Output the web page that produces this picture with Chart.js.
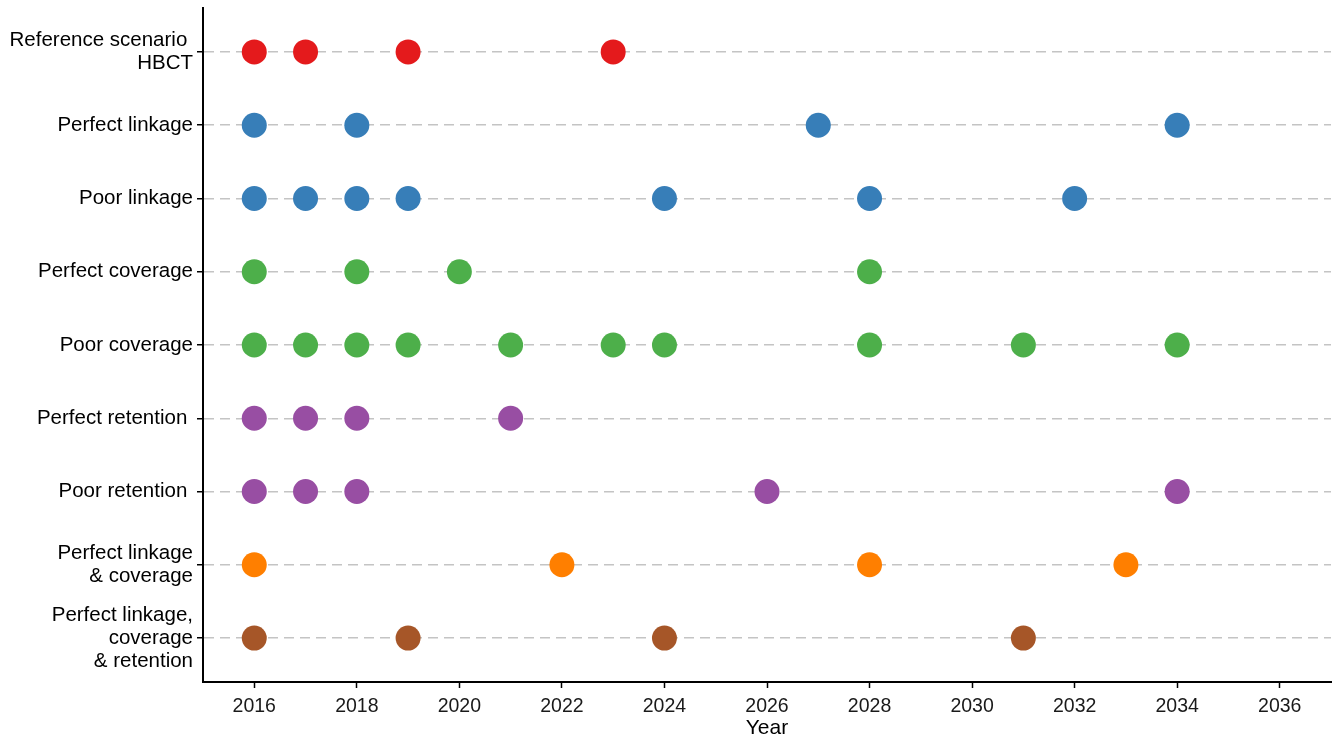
<!DOCTYPE html>
<html>
<head>
<meta charset="utf-8">
<script src="https://cdn.jsdelivr.net/npm/chart.js@4.4.1/dist/chart.umd.min.js"></script>
<style>
  html, body { margin: 0; padding: 0; background: #fff; }
  #wrap { width: 1333px; height: 737px; position: relative; }
</style>
</head>
<body>
<div id="wrap"><canvas id="timelineChart"></canvas></div>
<script>
// Scenario labels (top to bottom) and the years with a point on each row
const scenarios = [
    ['Reference scenario ', 'HBCT'],
    'Perfect linkage',
    'Poor linkage',
    'Perfect coverage',
    'Poor coverage',
    'Perfect retention ',
    'Poor retention ',
    ['Perfect linkage', '& coverage'],
    ['Perfect linkage,', 'coverage', '& retention']
];

const referenceYears = [2016, 2017, 2019, 2023];
const perfectLinkageYears = [2016, 2018, 2027, 2034];
const poorLinkageYears = [2016, 2017, 2018, 2019, 2024, 2028, 2032];
const perfectCoverageYears = [2016, 2018, 2020, 2028];
const poorCoverageYears = [2016, 2017, 2018, 2019, 2021, 2023, 2024, 2028, 2031, 2034];
const perfectRetentionYears = [2016, 2017, 2018, 2021];
const poorRetentionYears = [2016, 2017, 2018, 2026, 2034];
const linkageCoverageYears = [2016, 2022, 2028, 2033];
const allThreeYears = [2016, 2019, 2024, 2031];

const rowYears = [
    referenceYears, perfectLinkageYears, poorLinkageYears,
    perfectCoverageYears, poorCoverageYears, perfectRetentionYears,
    poorRetentionYears, linkageCoverageYears, allThreeYears
];

const rowColors = [
    '#E41A1C', '#377EB8', '#377EB8', '#4DAF4A', '#4DAF4A',
    '#984EA3', '#984EA3', '#FF7F00', '#A65628'
];

const xTicks = [2016, 2018, 2020, 2022, 2024, 2026, 2028, 2030, 2032, 2034, 2036];

const datasets = rowYears.map((years, row) => ({
    label: Array.isArray(scenarios[row]) ? scenarios[row].join(' ') : scenarios[row],
    data: years.map(y => ({ x: y, y: row })),
    backgroundColor: rowColors[row],
    borderColor: rowColors[row],
    borderWidth: 0,
    pointRadius: 12.5,
    pointHoverRadius: 12.5
}));

const ctx = document.getElementById('timelineChart').getContext('2d');
new Chart(ctx, {
    type: 'scatter',
    data: { datasets: datasets },
    options: {
        responsive: true,
        maintainAspectRatio: false,
        animation: false,
        layout: {
            autoPadding: false,
            padding: { top: 8, right: 2, left: 0, bottom: 0 }
        },
        plugins: {
            legend: { display: false },
            tooltip: { enabled: false }
        },
        scales: {
            x: {
                type: 'linear',
                min: 2015,
                max: 2037,
                afterBuildTicks: scale => {
                    scale.ticks = xTicks.map(v => ({ value: v }));
                },
                afterFit: scale => {
                    scale.height = 55;
                    scale.paddingLeft = 0;
                    scale.paddingRight = 0;
                },
                ticks: {
                    color: '#1a1a1a',
                    font: { family: 'Liberation Sans', size: 19.5 },
                    padding: 7,
                    maxRotation: 0,
                    callback: v => String(v)
                },
                grid: {
                    drawOnChartArea: false,
                    drawTicks: true,
                    tickLength: 6,
                    tickColor: '#000',
                    tickWidth: 1.5
                },
                border: { color: '#000', width: 2 },
                title: {
                    display: true,
                    text: 'Year',
                    color: '#000',
                    font: { family: 'Liberation Sans', size: 21, lineHeight: 0.8 },
                    padding: { top: 1, bottom: 0 }
                }
            },
            y: {
                type: 'linear',
                reverse: true,
                min: -0.6,
                max: 8.6,
                afterBuildTicks: scale => {
                    scale.ticks = scenarios.map((_, i) => ({ value: i }));
                },
                afterFit: scale => {
                    scale.width = 203;
                    scale.paddingTop = 0;
                    scale.paddingBottom = 0;
                },
                ticks: {
                    color: '#000',
                    font: { family: 'Liberation Sans', size: 20.5, lineHeight: 1.12 },
                    padding: 4,
                    callback: v => scenarios[v]
                },
                grid: {
                    color: '#c4c4c4',
                    lineWidth: 1.5,
                    drawTicks: true,
                    tickLength: 6,
                    tickColor: '#000',
                    tickWidth: 1.5,
                    tickBorderDash: []
                },
                border: { color: '#000', width: 2, dash: [10, 6] }
            }
        }
    }
});
</script>
</body>
</html>
